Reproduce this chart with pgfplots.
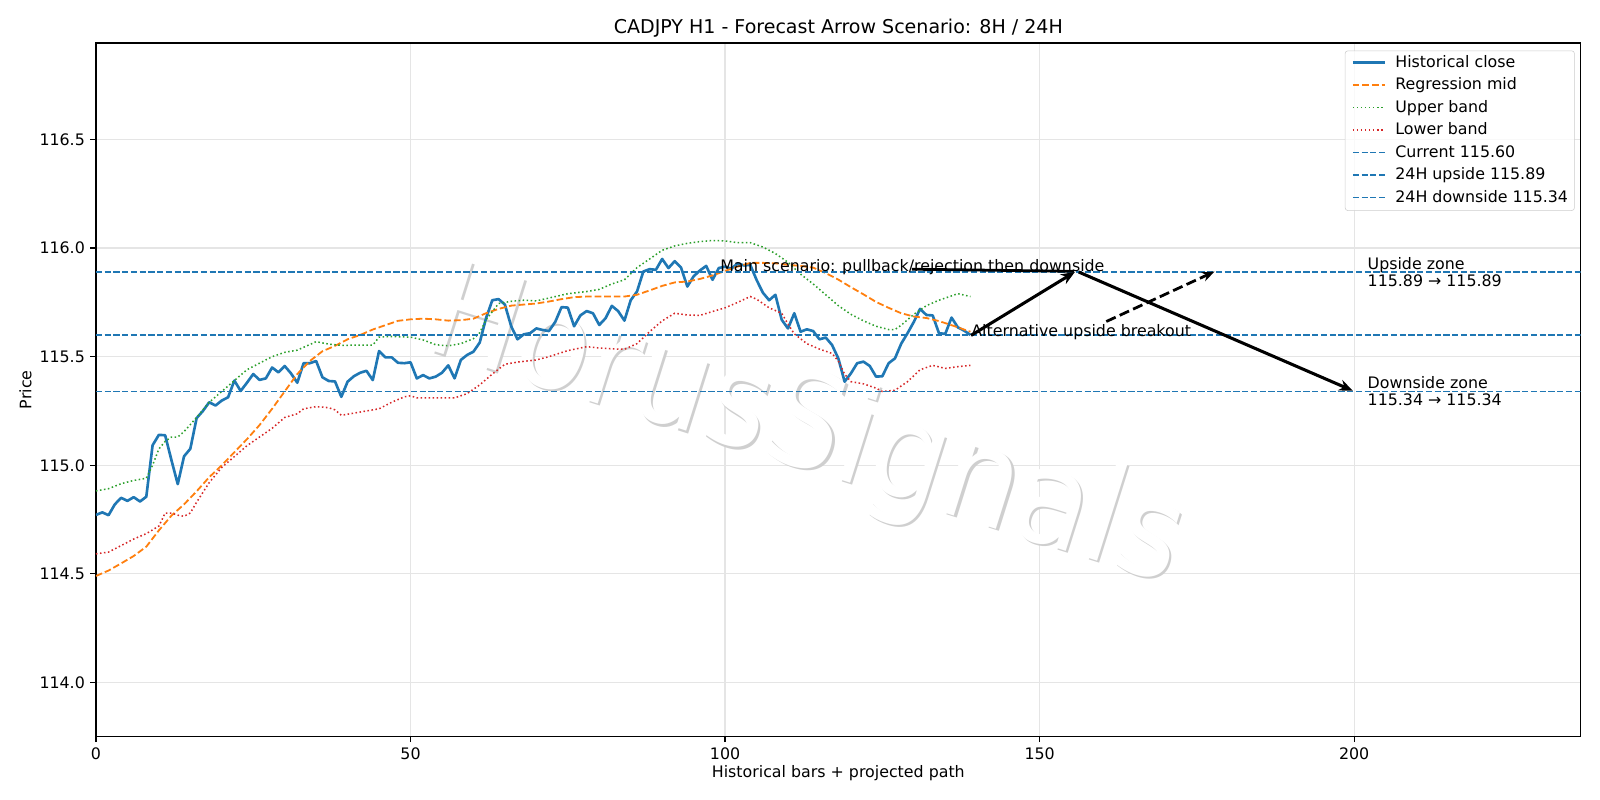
\documentclass[border=0pt]{standalone}
\usepackage{fontspec}
\setmainfont{DejaVu Sans}
\usepackage{pgfplots}
\pgfplotsset{compat=1.18}
\usetikzlibrary{arrows.meta}

\definecolor{tabblue}{HTML}{1F77B4}
\definecolor{taborange}{HTML}{FF7F0E}
\definecolor{tabgreen}{HTML}{2CA02C}
\definecolor{tabred}{HTML}{D62728}

\newcommand{\fsz}{\fontsize{11.4pt}{13.7pt}\selectfont}

\pgfplotstableread{
x y
0 114.771
1 114.783
2 114.770
3 114.820
4 114.850
5 114.836
6 114.853
7 114.833
8 114.855
9 115.092
10 115.140
11 115.138
12 115.023
13 114.913
14 115.041
15 115.076
16 115.217
17 115.250
18 115.290
19 115.275
20 115.298
21 115.313
22 115.390
23 115.342
24 115.380
25 115.420
26 115.393
27 115.400
28 115.450
29 115.428
30 115.457
31 115.423
32 115.380
33 115.470
34 115.470
35 115.480
36 115.405
37 115.388
38 115.386
39 115.315
40 115.385
41 115.410
42 115.426
43 115.435
44 115.392
45 115.526
46 115.497
47 115.497
48 115.472
49 115.470
50 115.474
51 115.400
52 115.415
53 115.400
54 115.408
55 115.426
56 115.460
57 115.400
58 115.485
59 115.508
60 115.523
61 115.565
62 115.677
63 115.760
64 115.765
65 115.740
66 115.640
67 115.580
68 115.603
69 115.608
70 115.630
71 115.623
72 115.618
73 115.660
74 115.728
75 115.726
76 115.640
77 115.690
78 115.710
79 115.700
80 115.646
81 115.677
82 115.734
83 115.710
84 115.666
85 115.760
86 115.800
87 115.892
88 115.903
89 115.900
90 115.950
91 115.908
92 115.940
93 115.910
94 115.823
95 115.870
96 115.897
97 115.918
98 115.854
99 115.908
100 115.915
101 115.905
102 115.930
103 115.920
104 115.923
105 115.854
106 115.795
107 115.760
108 115.785
109 115.670
110 115.630
111 115.700
112 115.615
113 115.626
114 115.618
115 115.580
116 115.588
117 115.554
118 115.492
119 115.385
120 115.423
121 115.470
122 115.477
123 115.457
124 115.408
125 115.410
126 115.470
127 115.492
128 115.560
129 115.608
130 115.660
131 115.720
132 115.692
133 115.690
134 115.608
135 115.605
136 115.680
137 115.635
138 115.620
139 115.600
}\closetable

\pgfplotstableread{
x y
0 114.490
2 114.515
4 114.548
6 114.582
8 114.625
10 114.700
12 114.768
14 114.820
16 114.880
18 114.945
20 115.000
22 115.060
24 115.120
26 115.185
28 115.260
30 115.340
32 115.420
34 115.480
36 115.525
38 115.550
40 115.580
42 115.600
44 115.625
46 115.645
48 115.665
50 115.672
52 115.675
54 115.672
56 115.666
58 115.668
60 115.675
62 115.700
64 115.720
66 115.735
68 115.740
70 115.745
72 115.754
74 115.765
76 115.774
78 115.777
80 115.777
82 115.777
84 115.777
86 115.785
88 115.805
90 115.826
92 115.842
94 115.846
96 115.858
98 115.874
100 115.895
102 115.915
104 115.932
106 115.932
108 115.930
110 115.923
112 115.918
114 115.910
116 115.885
118 115.855
120 115.820
122 115.787
124 115.752
126 115.725
128 115.700
130 115.685
132 115.678
134 115.664
136 115.645
138 115.625
139 115.615
}\midtable

\pgfplotstableread{
x y
0 114.882
2 114.892
4 114.915
6 114.930
8 114.940
9 115.000
10 115.075
11 115.110
12 115.130
13 115.130
14 115.155
16 115.220
18 115.290
20 115.340
22 115.390
24 115.440
26 115.470
28 115.500
30 115.520
32 115.530
34 115.556
35 115.569
37 115.558
39 115.552
41 115.553
43 115.553
44 115.553
45 115.590
47 115.593
50 115.590
52 115.577
54 115.555
56 115.550
58 115.560
60 115.583
61 115.610
62 115.670
64 115.745
66 115.755
68 115.760
70 115.757
72 115.770
75 115.790
78 115.800
80 115.810
82 115.835
84 115.854
86 115.910
88 115.950
90 115.990
92 116.010
94 116.022
96 116.030
98 116.035
100 116.033
102 116.025
104 116.025
106 116.005
108 115.975
110 115.935
112 115.880
114 115.835
116 115.785
118 115.735
120 115.695
122 115.665
124 115.640
126 115.625
127 115.625
128 115.645
130 115.695
132 115.735
134 115.760
136 115.780
137 115.790
139 115.777
}\uppertable

\pgfplotstableread{
x y
0 114.592
2 114.600
4 114.630
6 114.660
8 114.685
10 114.720
11 114.780
12 114.780
13 114.770
14 114.765
15 114.780
16 114.830
17 114.875
18 114.920
20 114.990
22 115.040
24 115.090
26 115.130
28 115.170
30 115.220
32 115.237
33 115.260
35 115.270
37 115.265
38 115.255
39 115.230
41 115.240
43 115.250
45 115.260
47 115.290
49 115.315
50 115.320
51 115.310
53 115.310
55 115.310
57 115.310
59 115.330
61 115.370
63 115.420
65 115.465
67 115.475
70 115.485
72 115.500
75 115.528
78 115.546
80 115.540
82 115.536
84 115.534
86 115.560
88 115.615
90 115.665
92 115.700
94 115.692
96 115.690
98 115.708
100 115.725
102 115.750
104 115.777
105 115.765
107 115.725
109 115.700
110 115.650
111 115.605
113 115.560
115 115.535
117 115.515
118 115.480
119 115.420
120 115.385
122 115.375
124 115.355
125 115.340
127 115.345
129 115.385
131 115.440
133 115.460
135 115.446
137 115.454
139 115.460
}\lowertable

\begin{document}
\fsz
\begin{tikzpicture}
\begin{axis}[
  at={(0pt,0pt)}, anchor=south west,
  scale only axis, width=1069pt, height=499.5pt,
  xmin=0, xmax=236, ymin=113.75, ymax=116.945,
  xtick={0,50,100,150,200},
  ytick={114.0,114.5,115.0,115.5,116.0,116.5},
  scaled ticks=false,
  y tick label style={/pgf/number format/.cd, fixed, fixed zerofill, precision=1},
  /pgf/number format/assume math mode=true,
  tick label style={font=\fsz},
  tick align=outside, tick pos=left, major tick length=4pt,
  every tick/.style={black, line width=0.9pt},
  axis line style={line width=0.9pt},
  grid=major, major grid style={line width=0.9pt, color=black!10},
  title={CADJPY H1 - Forecast Arrow Scenario: 8H / 24H},
  title style={font=\fontsize{13.7pt}{16pt}\selectfont, at={(0.5,1)}, anchor=base, yshift=0.5pt},
  xlabel={Historical bars + projected path},
  ylabel={Price},
  every axis x label/.style={at={(axis description cs:0.5,0)}, anchor=center, yshift=-26.5pt},
  every axis y label/.style={at={(axis description cs:0,0.5)}, anchor=center, xshift=-50.8pt, rotate=90},
  legend cell align=left,
  legend image code/.code={\draw[#1] (0pt,3.6pt) -- (22.9pt,3.6pt);},
  legend style={at={(0.996,0.989)}, anchor=north east, draw=black!20, rounded corners=2pt,
    fill=white, fill opacity=0.8, text opacity=1, draw opacity=1,
    font=\fsz,
    inner xsep=4.6pt, inner ysep=3.4pt, row sep=5.2pt, column sep=6.8pt,
    nodes={inner sep=0pt, text height=8.6pt, text depth=2.4pt, anchor=base west}},
]
\node[rotate=-17.5, text=black!19, inner sep=0pt, font=\fontsize{96pt}{100pt}\selectfont] at ([shift={(1.7pt,-1.7pt)}]axis cs:112.8,115.16) {\scalebox{0.9}[1]{HorusSignals}};
\node[rotate=-17.5, text=white, inner sep=0pt, font=\fontsize{96pt}{100pt}\selectfont] at (axis cs:112.8,115.16) {\scalebox{0.9}[1]{HorusSignals}};

\addplot[tabblue, line width=1.9pt, line join=round] table {\closetable};
\addlegendentry{Historical close}
\addplot[taborange, line width=1.3pt, dash pattern=on 4.8pt off 2.1pt] table {\midtable};
\addlegendentry{Regression mid}
\addplot[tabgreen, line width=1.1pt, dash pattern=on 1.1pt off 1.8pt] table {\uppertable};
\addlegendentry{Upper band}
\addplot[tabred, line width=1.1pt, dash pattern=on 1.1pt off 1.8pt] table {\lowertable};
\addlegendentry{Lower band}
\addplot[tabblue, line width=1.1pt, dash pattern=on 4.4pt off 1.9pt] coordinates {(0,115.60) (236,115.60)};
\addlegendentry{Current 115.60}
\addplot[tabblue, line width=1.1pt, dash pattern=on 4.4pt off 1.9pt] coordinates {(0,115.89) (236,115.89)};
\addlegendentry{24H upside 115.89}
\addplot[tabblue, line width=1.1pt, dash pattern=on 4.4pt off 1.9pt] coordinates {(0,115.34) (236,115.34)};
\addlegendentry{24H downside 115.34}

\node[anchor=base west, inner sep=0pt] at (axis cs:99.2,115.89) {Main scenario: pullback/rejection then downside};
\draw[black, line width=2pt] (axis cs:129.7,115.903) -- (axis cs:155.5,115.893);
\draw[black, line width=2.2pt, -{Stealth[length=10pt,width=8pt]}] (axis cs:139.1,115.598) -- (axis cs:155.6,115.89);
\draw[black, line width=2.2pt, -{Stealth[length=10pt,width=8pt]}] (axis cs:156.2,115.89) -- (axis cs:199.8,115.343);
\node[anchor=base west, inner sep=0pt] at (axis cs:139.1,115.594) {Alternative upside breakout};
\draw[black, line width=2pt, dash pattern=on 7.4pt off 3.2pt, -{Stealth[length=9pt,width=7pt]}] (axis cs:160.6,115.662) -- (axis cs:177.8,115.892);
\node[anchor=west, inner sep=0pt, align=left, font=\fontsize{11.4pt}{12pt}\selectfont] at (axis cs:202.1,115.89) {Upside zone\\115.89 → 115.89};
\node[anchor=west, inner sep=0pt, align=left, font=\fontsize{11.4pt}{12pt}\selectfont] at (axis cs:202.1,115.34) {Downside zone\\115.34 → 115.34};
\end{axis}
\path (-69.1pt,-45.6pt) rectangle (1082.9pt,530.4pt);
\end{tikzpicture}
\end{document}
